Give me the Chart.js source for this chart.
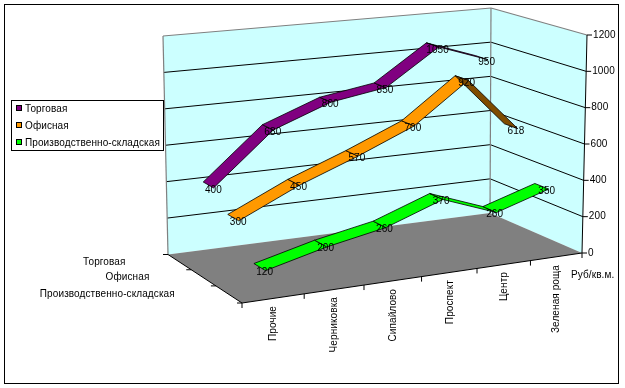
<!DOCTYPE html>
<html>
<head>
<meta charset="utf-8">
<style>html,body{margin:0;padding:0;background:#fff}canvas{display:block}</style>
<script src="https://cdn.jsdelivr.net/npm/chart.js@4"></script>
</head>
<body>
<canvas id="c" width="625" height="388"></canvas>
<script>
const categories = ['Прочие','Черниковка','Сипайлово','Проспект','Центр','Зеленая роща'];
const seriesNames = ['Торговая','Офисная','Производственно-складская'];
const torgovaya = [400,680,800,850,1050,950];
const ofisnaya = [300,450,570,700,920,618];
const proizvod = [120,200,260,370,260,350];
const unitLabel = 'Руб/кв.м.';

// box corners as seen in the picture (floor and ceiling planes)
const FLOOR = {bl:[168,254.5],br:[490,213],fr:[582,253],fl:[242,303]};
const CEIL  = {bl:[163,36],br:[491,8],fr:[587,35],fl:[238,72]};
const FONT = '10px "Liberation Sans", Arial, sans-serif';
const SPACING = '0.1px';

// homography from unit square (u along categories, w: 0 front -> 1 back)
function homography(q){
  const [x0,y0]=q.fl,[x1,y1]=q.fr,[x2,y2]=q.br,[x3,y3]=q.bl;
  const dx1=x1-x2,dx2=x3-x2,sx=x0-x1+x2-x3,dy1=y1-y2,dy2=y3-y2,sy=y0-y1+y2-y3;
  const d=dx1*dy2-dx2*dy1;
  const g=(sx*dy2-dx2*sy)/d,h=(dx1*sy-sx*dy1)/d;
  const a=x1-x0+g*x1,b=x3-x0+h*x3,c=x0,dd=y1-y0+g*y1,e=y3-y0+h*y3,f=y0;
  return (u,w)=>{const k=g*u+h*w+1;return [(a*u+b*w+c)/k,(dd*u+e*w+f)/k];};
}
const floorH=homography(FLOOR), ceilH=homography(CEIL);
function project(u,w,v){
  const p=floorH(u,w),q=ceilH(u,w);
  return [p[0]+(q[0]-p[0])*v,p[1]+(q[1]-p[1])*v];
}
const depthOf = i => (seriesNames.length-i-0.5)/seriesNames.length;
const RIBBON = 0.072;

function uOf(chart,i){const x=chart.scales.x;return (x.getPixelForValue(i)-x.left)/x.width;}
function vOf(chart,val){const y=chart.scales.y;return (y.bottom-y.getPixelForValue(val))/y.height;}

function poly(ctx,pts){ctx.beginPath();pts.forEach((p,i)=>i?ctx.lineTo(p[0],p[1]):ctx.moveTo(p[0],p[1]));ctx.closePath();}
function seg(ctx,a,b){ctx.beginPath();ctx.moveTo(a[0],a[1]);ctx.lineTo(b[0],b[1]);ctx.stroke();}
function text(ctx,s,x,y,align){ctx.textAlign=align;ctx.textBaseline='middle';ctx.fillText(s,x,y);}

const box3d={
  id:'box3d',
  afterDatasetsUpdate(chart){
    chart.data.datasets.forEach((ds,i)=>{
      chart.getDatasetMeta(i).data.forEach((pt,j)=>{
        const p=project(uOf(chart,j),depthOf(i),vOf(chart,ds.data[j]));
        pt.x=p[0];pt.y=p[1];
      });
    });
  },
  beforeDatasetsDraw(chart){
    const ctx=chart.ctx,yS=chart.scales.y;
    ctx.save();
    ctx.font=FONT;ctx.fillStyle='#000';
    if('letterSpacing' in ctx)ctx.letterSpacing=SPACING;
    // outer frame
    ctx.strokeStyle='#000';ctx.lineWidth=1;ctx.strokeRect(4.5,4.5,614,379);
    // walls
    const B=[project(0,1,0),project(1,1,0),project(1,1,1),project(0,1,1)];
    const S=[project(1,1,0),project(1,0,0),project(1,0,1),project(1,1,1)];
    ctx.fillStyle='#CCFFFF';poly(ctx,B);ctx.fill();poly(ctx,S);ctx.fill();
    // gridlines on both walls
    ctx.strokeStyle='#000';
    yS.ticks.forEach(t=>{
      const v=vOf(chart,t.value);
      if(v<=0||v>=1)return;
      const a=project(0,1,v),b=project(1,1,v),c=project(1,0,v);
      seg(ctx,a,b);seg(ctx,b,c);
    });
    // floor
    ctx.fillStyle='#808080';poly(ctx,[project(0,1,0),project(1,1,0),project(1,0,0),project(0,0,0)]);ctx.fill();
    // wall edges
    ctx.strokeStyle='#808080';ctx.lineWidth=1.2;
    seg(ctx,project(0,1,0),project(0,1,1));
    seg(ctx,project(0,1,1),project(1,1,1));
    seg(ctx,project(1,1,1),project(1,0,1));
    seg(ctx,project(1,1,0),project(1,1,1));
    ctx.lineWidth=1;ctx.strokeStyle='#000';ctx.fillStyle='#000';
    // value axis on the right front edge
    seg(ctx,project(1,0,0),project(1,0,1));
    yS.ticks.forEach(t=>{
      const p=project(1,0,vOf(chart,t.value));
      seg(ctx,p,[p[0]+5,p[1]]);
      text(ctx,String(t.value),p[0]+6,p[1],'left');
    });
    // category axis on the front floor edge
    seg(ctx,project(0,0,0),project(1,0,0));
    const n=categories.length;
    for(let i=0;i<=n;i++){const p=project(i/n,0,0);seg(ctx,p,[p[0],p[1]+5]);}
    categories.forEach((c,i)=>{
      const p=project(uOf(chart,i),0,0);
      ctx.save();ctx.translate(Math.round(p[0]),Math.round(p[1])+8);ctx.rotate(-Math.PI/2);
      text(ctx,c,0,0,'right');ctx.restore();
    });
    // series axis on the left floor edge
    seg(ctx,project(0,1,0),project(0,0,0));
    const m=seriesNames.length;
    for(let i=0;i<=m;i++){const p=project(0,i/m,0);seg(ctx,p,[p[0]-5,p[1]]);}
    seriesNames.forEach((s,i)=>{
      const p=project(0,depthOf(i),0);
      text(ctx,s,p[0]-54,p[1],'right');
    });
    text(ctx,unitLabel,571,275,'left');
    // ribbons, back to front
    chart.data.datasets.forEach((ds,i)=>{
      const w=depthOf(i);
      for(let j=0;j<ds.data.length-1;j++){
        const u0=uOf(chart,j),u1=uOf(chart,j+1),v0=vOf(chart,ds.data[j]),v1=vOf(chart,ds.data[j+1]);
        const a=project(u0,w+RIBBON,v0),b=project(u1,w+RIBBON,v1),c=project(u1,w-RIBBON,v1),d=project(u0,w-RIBBON,v0);
        const area=(b[0]-a[0])*(d[1]-a[1])-(b[1]-a[1])*(d[0]-a[0]);
        ctx.fillStyle=area>=0?ds.borderColor:ds.shadeColor;
        poly(ctx,[a,b,c,d]);ctx.fill();ctx.lineWidth=0.8;ctx.stroke();
      }
    });
    // data labels
    ctx.fillStyle='#000';
    chart.data.datasets.forEach((ds,i)=>{
      chart.getDatasetMeta(i).data.forEach((pt,j)=>{
        text(ctx,String(ds.data[j]),pt.x+5,pt.y+5,'center');
      });
    });
    // legend
    ctx.fillStyle='#fff';ctx.fillRect(11.5,100.5,152,50);
    ctx.lineWidth=1;ctx.strokeRect(11.5,100.5,152,50);
    chart.data.datasets.forEach((ds,i)=>{
      const y=109+i*17;
      ctx.fillStyle=ds.borderColor;ctx.fillRect(16.5,y-3.5,5,5);
      ctx.strokeRect(16.5,y-3.5,5,5);
      ctx.fillStyle='#000';
      text(ctx,ds.label,25,y,'left');
    });
    ctx.restore();
  }
};

new Chart(document.getElementById('c'),{
  type:'line',
  data:{labels:categories,datasets:[
    {label:seriesNames[0],data:torgovaya,borderColor:'#800080',shadeColor:'#400040',showLine:false,pointRadius:0},
    {label:seriesNames[1],data:ofisnaya,borderColor:'#FF9900',shadeColor:'#7F4C00',showLine:false,pointRadius:0},
    {label:seriesNames[2],data:proizvod,borderColor:'#00FF00',shadeColor:'#007F00',showLine:false,pointRadius:0}
  ]},
  options:{
    responsive:false,animation:false,
    layout:{padding:{left:168,right:43,top:35,bottom:135}},
    plugins:{legend:{display:false},tooltip:{enabled:false}},
    scales:{
      x:{type:'category',offset:true,display:false},
      y:{type:'linear',min:0,max:1200,ticks:{stepSize:200},display:false}
    }
  },
  plugins:[box3d]
});
</script>
</body>
</html>
